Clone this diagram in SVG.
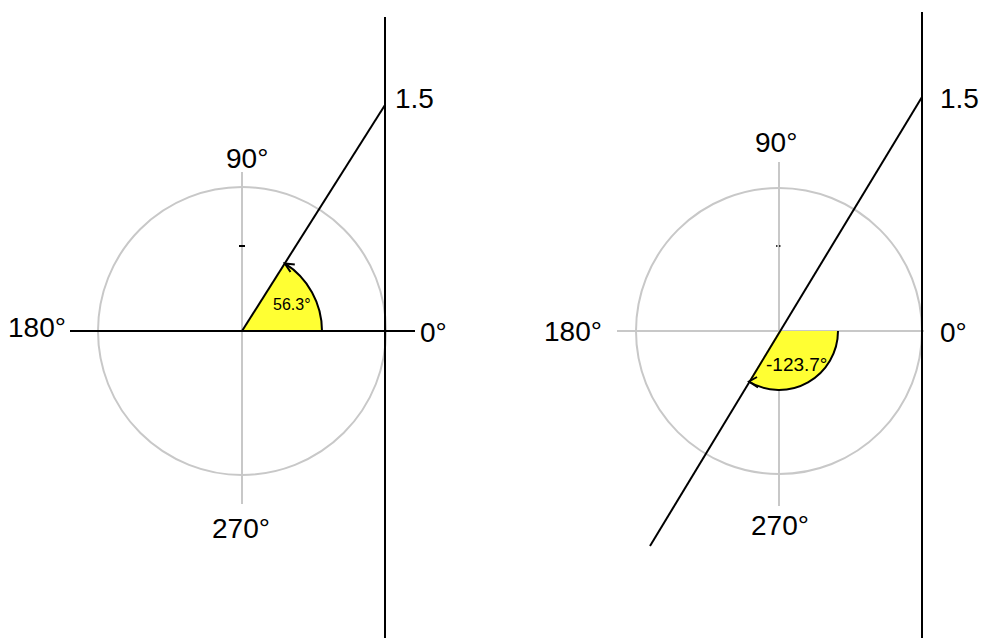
<svg xmlns="http://www.w3.org/2000/svg" width="981" height="638" viewBox="0 0 981 638">
<style>
.axis{stroke:#c8c8c8;stroke-width:2;fill:none}
.blk{stroke:#000;stroke-width:2;fill:none}
.sector{fill:#ffff33;stroke:none}
.lbl{font-family:"Liberation Sans",Arial,sans-serif;font-size:28px;fill:#000}
.ang{font-family:"Liberation Sans",Arial,sans-serif;fill:#000}
</style>
<rect width="981" height="638" fill="#fff"/>
<g id="left-diagram">
  <circle class="axis" cx="242" cy="331" r="144"/>
  <line class="axis" x1="242" y1="172" x2="242" y2="504"/>
  <path class="sector" d="M242,331 L322,331 A80,80 0 0 0 284.8,263.4 Z"/>
  <path class="blk" d="M322,331 A80,80 0 0 0 284.8,263.4"/>
  <path class="blk" d="M290.5,272 L284.8,263.4 L294.8,264.5" stroke-width="1.8"/>
  <line class="blk" x1="70" y1="331" x2="415" y2="331"/>
  <line class="blk" x1="385" y1="17" x2="385" y2="638"/>
  <line class="blk" x1="242" y1="331" x2="385" y2="105"/>
  <line class="blk" x1="239" y1="246" x2="245" y2="246" stroke-width="1.5"/>
  <text class="ang" x="273" y="310" font-size="16">56.3°</text>
  <text class="lbl" x="395" y="108">1.5</text>
  <text class="lbl" x="226" y="168">90°</text>
  <text class="lbl" x="8" y="337">180°</text>
  <text class="lbl" x="420" y="342">0°</text>
  <text class="lbl" x="212" y="538">270°</text>
</g>
<g id="right-diagram">
  <circle class="axis" cx="779" cy="331" r="143"/>
  <line class="axis" x1="779" y1="162" x2="779" y2="506"/>
  <line class="axis" x1="617" y1="331" x2="924" y2="331"/>
  <path class="sector" d="M779,331 L838,331 A59,59 0 0 1 748.6,381.5 Z"/>
  <path class="blk" d="M838,331 A59,59 0 0 1 748.6,381.5"/>
  <path class="blk" d="M757,377 L749,381.5 L758,387.5" stroke-width="2"/>
  <line class="blk" x1="922" y1="12" x2="922" y2="638"/>
  <line class="blk" x1="922" y1="97" x2="650" y2="546"/>
  <line x1="776" y1="246" x2="782" y2="246" stroke="#000" stroke-width="1.5" stroke-dasharray="1.5,1.5"/>
  <text class="ang" x="766" y="371" font-size="19">-123.7°</text>
  <text class="lbl" x="940" y="108">1.5</text>
  <text class="lbl" x="755" y="152">90°</text>
  <text class="lbl" x="544" y="341">180°</text>
  <text class="lbl" x="940" y="342">0°</text>
  <text class="lbl" x="751" y="535">270°</text>
</g>
</svg>
